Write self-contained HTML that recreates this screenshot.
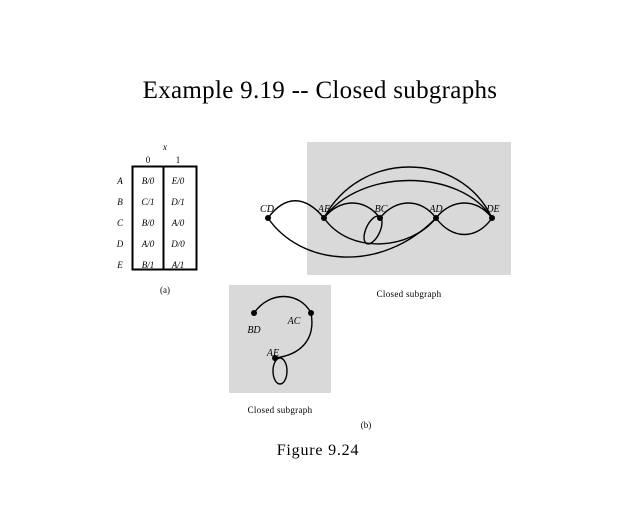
<!DOCTYPE html>
<html><head><style>
html,body{margin:0;padding:0;background:#fff;}
svg{display:block;font-family:"Liberation Serif",serif;}
</style></head><body>
<svg width="640" height="512" viewBox="0 0 640 512">
<text x="320" y="98" font-size="25" text-anchor="middle" letter-spacing="0.3">Example 9.19 -- Closed subgraphs</text>
<!-- table -->
<text x="165" y="150" font-size="9" font-style="italic" text-anchor="middle">x</text>
<text x="148" y="163" font-size="9" text-anchor="middle">0</text>
<text x="178" y="163" font-size="9" text-anchor="middle">1</text>
<rect x="132.5" y="166.5" width="64" height="103" fill="none" stroke="#000" stroke-width="2"/>
<line x1="163.5" y1="166" x2="163.5" y2="270" stroke="#000" stroke-width="2"/>
<g font-size="9" font-style="italic" text-anchor="middle">
<text x="120" y="184">A</text><text x="148" y="184">B/0</text><text x="178" y="184">E/0</text>
<text x="120" y="205">B</text><text x="148" y="205">C/1</text><text x="178" y="205">D/1</text>
<text x="120" y="226">C</text><text x="148" y="226">B/0</text><text x="178" y="226">A/0</text>
<text x="120" y="247">D</text><text x="148" y="247">A/0</text><text x="178" y="247">D/0</text>
<text x="120" y="268">E</text><text x="148" y="268">B/1</text><text x="178" y="268">A/1</text>
</g>
<text x="165" y="293" font-size="9" text-anchor="middle">(a)</text>
<!-- graph 1 -->
<rect x="307" y="142" width="204" height="133" fill="#d9d9d9"/>
<g fill="none" stroke="#000" stroke-width="1.4">
<path d="M268,218 C285,195 305,195 324,218"/>
<path d="M268,218 C300,265 380,275 436,218"/>
<path d="M324,218 C340,198 365,198 380,218"/>
<path d="M380,218 C396,198 421,198 436,218"/>
<path d="M436,218 C452,198 477,198 492,218"/>
<path d="M436,218 C452,240 477,240 492,218"/>
<path d="M324,218 C350,255 410,250 436,218"/>
<path d="M324,218 C360,150 460,150 492,218"/>
<path d="M324,218 C360,168 460,168 492,218"/>
<ellipse cx="373" cy="230" rx="7" ry="15" transform="rotate(25 373 230)"/>
</g>
<g fill="#000">
<circle cx="268" cy="218" r="3"/><circle cx="324" cy="218" r="3"/><circle cx="380" cy="218" r="3"/>
<circle cx="436" cy="218" r="3"/><circle cx="492" cy="218" r="3"/>
</g>
<g font-size="10" font-style="italic" text-anchor="middle">
<text x="267" y="212">CD</text><text x="324" y="212">AE</text><text x="381" y="212">BC</text>
<text x="436" y="212">AD</text><text x="493" y="212">DE</text>
</g>
<text x="409" y="297" font-size="9" text-anchor="middle" letter-spacing="0.3">Closed subgraph</text>
<!-- graph 2 -->
<rect x="229" y="285" width="102" height="108" fill="#d9d9d9"/>
<g fill="none" stroke="#000" stroke-width="1.4">
<path d="M254,313 C270,290 300,292 311,313"/>
<path d="M311,313 C316,340 300,355 275,358"/>
<ellipse cx="280" cy="371" rx="7" ry="13"/>
</g>
<g fill="#000"><circle cx="254" cy="313" r="3"/><circle cx="311" cy="313" r="3"/><circle cx="275" cy="358" r="3"/></g>
<g font-size="10" font-style="italic" text-anchor="middle">
<text x="254" y="333">BD</text><text x="294" y="324">AC</text><text x="273" y="356">AE</text>
</g>
<text x="280" y="413" font-size="9" text-anchor="middle" letter-spacing="0.3">Closed subgraph</text>
<text x="366" y="428" font-size="9" text-anchor="middle">(b)</text>
<text x="318" y="455" font-size="16" text-anchor="middle" letter-spacing="0.8">Figure 9.24</text>
</svg>
</body></html>
